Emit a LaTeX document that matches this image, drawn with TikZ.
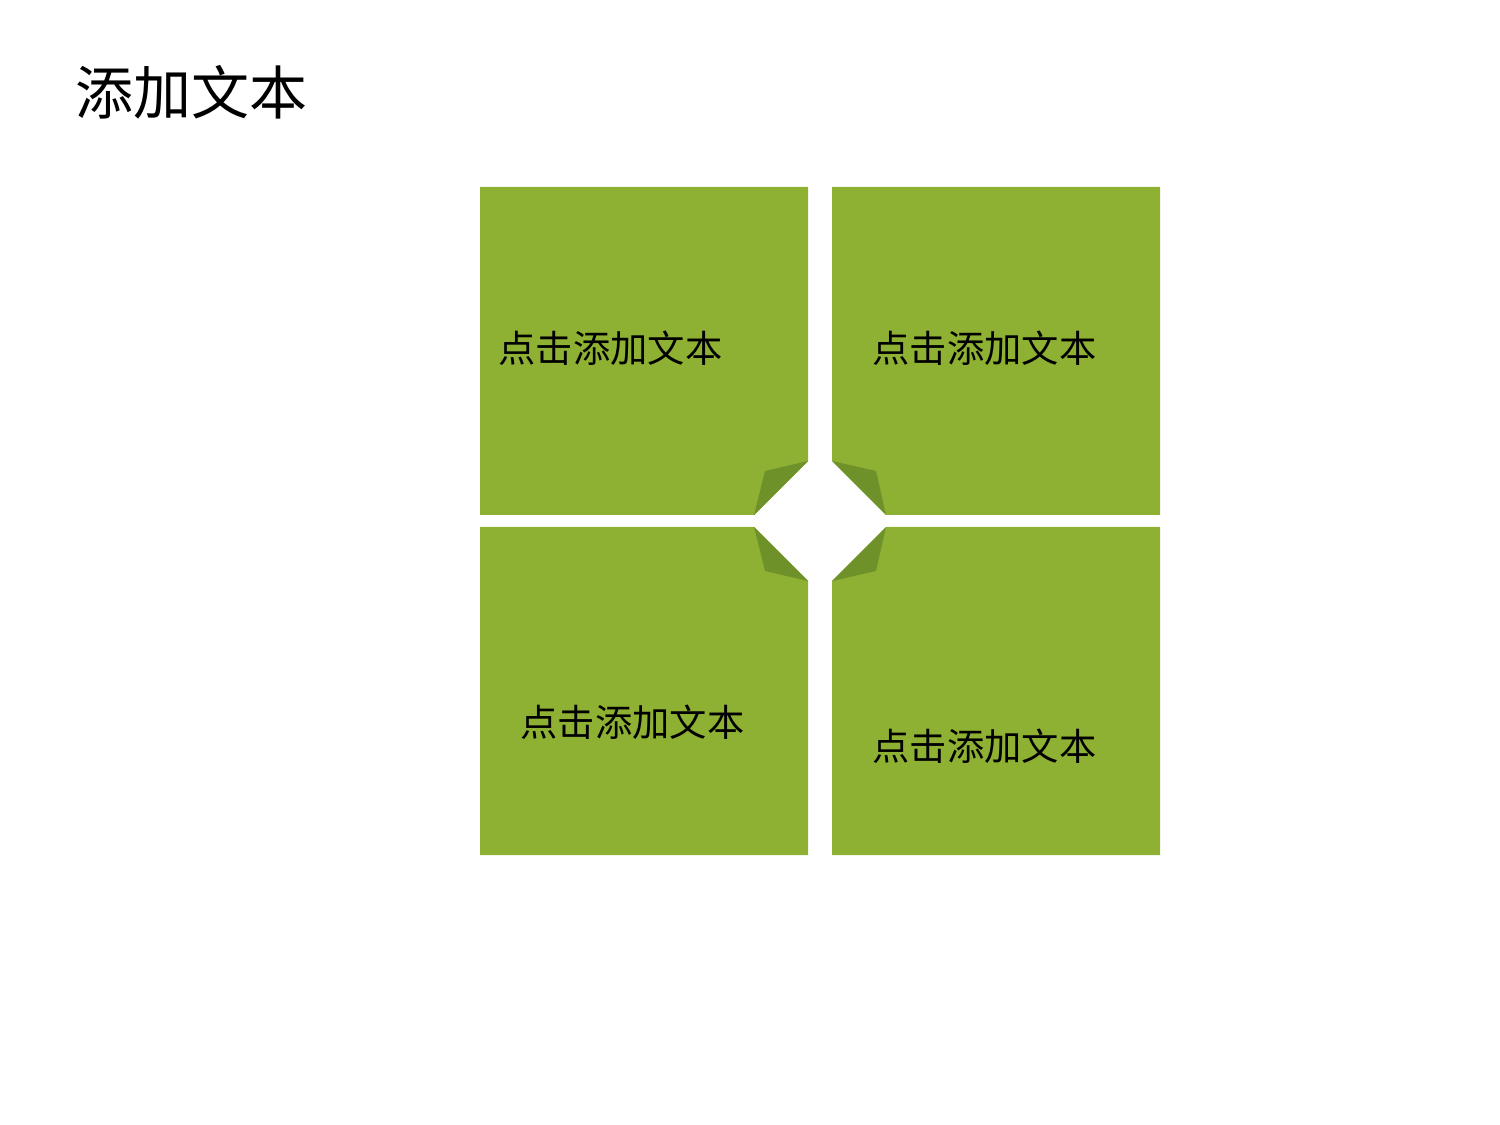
\documentclass[tikz,border=0pt]{standalone}
\usepackage{fontspec}
\setmainfont{Noto Sans CJK SC}
\definecolor{leaf}{HTML}{8EB133}
\definecolor{leafdark}{HTML}{6F912A}
\tikzset{
  tile/.style={fill=leaf},
  fold/.style={fill=leafdark},
  caption/.style={anchor=west, inner sep=0pt, font=\fontsize{10.6pt}{12pt}\selectfont}
}
\begin{document}
\begin{tikzpicture}[x=0.01cm, y=-0.01cm]
  \useasboundingbox (0,0) rectangle (1500,1125);
  \node [anchor=west, inner sep=0pt, font=\fontsize{16.5pt}{20pt}\selectfont] (title) at (75,92) {添加文本};

  % four tiles, cut at the centre
  \fill [tile] (480,187) -- (808,187) -- (808,461) -- (754,515) -- (480,515) -- cycle;
  \fill [tile] (832,187) -- (1160,187) -- (1160,515) -- (886,515) -- (832,461) -- cycle;
  \fill [tile] (480,527) -- (754,527) -- (808,581) -- (808,855) -- (480,855) -- cycle;
  \fill [tile] (886,527) -- (1160,527) -- (1160,855) -- (832,855) -- (832,581) -- cycle;

  % folded corners
  \fill [fold] (808,461) -- (765,471) -- (754,515) -- cycle;
  \fill [fold] (832,461) -- (876,471) -- (886,515) -- cycle;
  \fill [fold] (754,527) -- (765,571) -- (808,581) -- cycle;
  \fill [fold] (886,527) -- (876,571) -- (832,581) -- cycle;

  \node [caption] (tl) at (498,348) {点击添加文本};
  \node [caption] (tr) at (872,348) {点击添加文本};
  \node [caption] (bl) at (520,722) {点击添加文本};
  \node [caption] (br) at (872,746) {点击添加文本};
\end{tikzpicture}
\end{document}
